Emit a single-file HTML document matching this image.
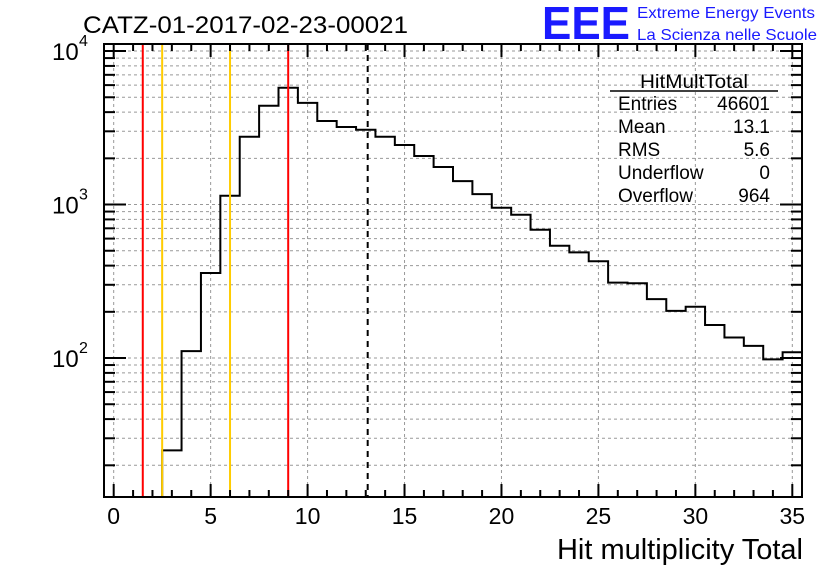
<!DOCTYPE html>
<html><head><meta charset="utf-8"><style>
body{margin:0;background:#fff}
svg text{font-family:"Liberation Sans",sans-serif}
</style></head><body>
<svg id="c" width="836" height="572" xmlns="http://www.w3.org/2000/svg">
<rect width="836" height="572" fill="#fff"/>
<text x="83" y="33" font-size="24" textLength="325" lengthAdjust="spacingAndGlyphs">CATZ-01-2017-02-23-00021</text>
<text x="542" y="39" font-size="46" font-weight="bold" fill="#1a1aff" textLength="88" lengthAdjust="spacingAndGlyphs">EEE</text>
<text x="637" y="18" font-size="16" fill="#1a1aff" textLength="178" lengthAdjust="spacingAndGlyphs">Extreme Energy Events</text>
<text x="637" y="40" font-size="16" fill="#1a1aff" textLength="180" lengthAdjust="spacingAndGlyphs">La Scienza nelle Scuole</text>
<g id="grid"></g>
<g id="marks"></g>
<g id="axes"></g>
<g font-size="19">
<text x="694" y="88" text-anchor="middle" textLength="108" lengthAdjust="spacingAndGlyphs">HitMultTotal</text>
<line x1="610" y1="91" x2="778" y2="91" stroke="#000" stroke-width="1.5"/>
<text x="618" y="110">Entries</text><text x="770" y="110" text-anchor="end">46601</text>
<text x="618" y="133">Mean</text><text x="770" y="133" text-anchor="end">13.1</text>
<text x="618" y="156">RMS</text><text x="770" y="156" text-anchor="end">5.6</text>
<text x="618" y="179">Underflow</text><text x="770" y="179" text-anchor="end">0</text>
<text x="618" y="202">Overflow</text><text x="770" y="202" text-anchor="end">964</text>
</g>
<text x="803" y="559" font-size="29" text-anchor="end">Hit multiplicity Total</text>
</svg>
<script>
const binCenters=[3,4,5,6,7,8,9,10,11,12,13,14,15,16,17,18,19,20,21,22,23,24,25,26,27,28,29,30,31,32,33,34,35];
const counts=[25,111,358,1141,2766,4403,5770,4597,3500,3198,3070,2766,2441,2070,1755,1422,1170,953,858,685,539,488,427,310,307,242,203,216,164,136,120,98,109];
const xTicks=[0,5,10,15,20,25,30,35];
const yDecades=[2,3,4];
const redLines=[1.5,9.0];
const yellowLines=[2.5,6.0];
const meanLine=[13.1];

const L=104,R=802,T=44,B=497;
const X0=-0.5,X1=35.5,LY0=1.0945,LY1=4.046;
const sx=v=>L+(v-X0)/(X1-X0)*(R-L);
const sy=v=>B-(Math.log10(v)-LY0)/(LY1-LY0)*(B-T);
const NS="http://www.w3.org/2000/svg";
function mk(tag,attrs,parent){const e=document.createElementNS(NS,tag);for(const k in attrs)e.setAttribute(k,attrs[k]);parent.appendChild(e);return e;}
const grid=document.getElementById('grid'),marks=document.getElementById('marks'),axes=document.getElementById('axes');
for(const t of xTicks){const g=mk('line',{x1:sx(t),x2:sx(t),y1:T,y2:B,stroke:'#999','stroke-dasharray':'3,3','stroke-width':1},grid);

}
for(let d=1;d<=4;d++){for(let m=1;m<=9;m++){const v=m*Math.pow(10,d);const y=sy(v);if(y<T||y>B)continue;
const g=mk('line',{x1:L,x2:R,y1:y,y2:y,stroke:'#999','stroke-dasharray':'3,3','stroke-width':1},grid);

}}
let d=`M${sx(binCenters[0]-0.5)},${B}`;
for(let i=0;i<counts.length;i++){const y=sy(counts[i]);d+=` L${sx(binCenters[i]-0.5)},${y} L${sx(binCenters[i]+0.5)},${y}`;}
const h=mk('path',{d:d,fill:'none',stroke:'#000','stroke-width':2},marks);


for(const v of redLines){const l=mk('line',{x1:sx(v),x2:sx(v),y1:T,y2:B,stroke:'#f00','stroke-width':2},marks);

}
for(const v of yellowLines){const l=mk('line',{x1:sx(v),x2:sx(v),y1:T,y2:B,stroke:'#ffcc00','stroke-width':2},marks);

}
for(const v of meanLine){const l=mk('line',{x1:sx(v),x2:sx(v),y1:T,y2:B,stroke:'#000','stroke-width':2,'stroke-dasharray':'6,5'},marks);

}
const f=mk('rect',{x:L,y:T,width:R-L,height:B-T,fill:'none',stroke:'#000','stroke-width':2},axes);


for(let v=0;v<=35;v++){const x=sx(v),len=v%5===0?13:7;
mk('line',{x1:x,x2:x,y1:B,y2:B-len,stroke:'#000','stroke-width':2},axes);
mk('line',{x1:x,x2:x,y1:T,y2:T+len,stroke:'#000','stroke-width':2},axes);}
for(const t of xTicks){const tx=mk('text',{x:sx(t),y:524,'font-size':23,'text-anchor':'middle'},axes);tx.textContent=t;

}
for(let dd=1;dd<=4;dd++){for(let m=1;m<=9;m++){const v=m*Math.pow(10,dd);const y=sy(v);if(y<T||y>B)continue;const len=m===1?22:11;
mk('line',{x1:L,x2:L+len,y1:y,y2:y,stroke:'#000','stroke-width':2},axes);
mk('line',{x1:R,x2:R-len,y1:y,y2:y,stroke:'#000','stroke-width':2},axes);}}
for(const e of yDecades){const y=sy(Math.pow(10,e));
const tx=mk('text',{x:52,y:y+9,'font-size':24},axes);tx.textContent='10';


const sp=mk('text',{x:79,y:y-5,'font-size':16},axes);sp.textContent=e;

}
</script>
</body></html>
